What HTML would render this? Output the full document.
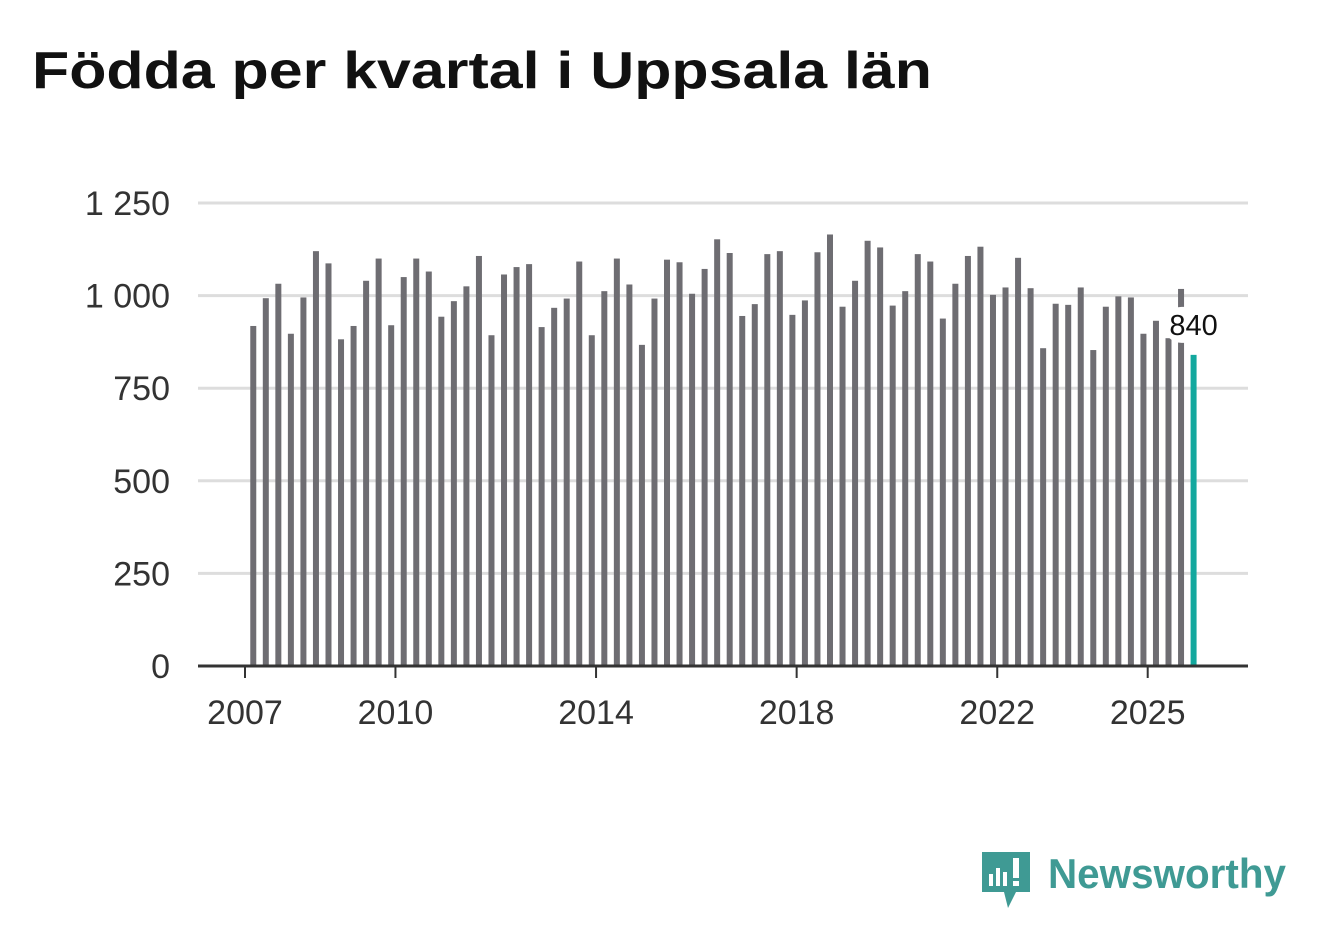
<!DOCTYPE html>
<html><head><meta charset="utf-8"><style>
body{margin:0;background:#fff;width:1322px;height:939px;overflow:hidden;font-family:"Liberation Sans",sans-serif}
</style></head><body>
<svg width="1322" height="939">
<text x="32" y="88" font-size="52" font-weight="bold" fill="#111" textLength="900" lengthAdjust="spacingAndGlyphs">Födda per kvartal i Uppsala län</text>
<g id="grid"></g><g id="bars"></g><g id="axis"></g>
<g>
<path d="M982 852h48v40h-14l-8 16l-4-16h-22z" fill="#3f9a94"/>
<rect x="989" y="874" width="4" height="12" fill="#fff"/><rect x="996" y="868" width="4" height="18" fill="#fff"/><rect x="1003" y="872" width="4" height="14" fill="#fff"/><rect x="1013" y="858" width="6" height="20" fill="#fff"/><rect x="1013" y="881" width="6" height="5" fill="#fff"/>
<text x="1048" y="888" font-size="42" font-weight="bold" fill="#3f9a94" textLength="238" lengthAdjust="spacingAndGlyphs">Newsworthy</text>
</g>
</svg>
<script>
const years=[2007,2008,2009,2010,2011,2012,2013,2014,2015,2016,2017,2018,2019,2020,2021,2022,2023,2024,2025];
const values=[918,993,1032,897, 995,1120,1087,882, 918,1040,1100,920, 1050,1100,1065,943, 985,1025,1107,893, 1057,1077,1085,915, 967,992,1092,893, 1012,1100,1030,867, 992,1097,1090,1005, 1072,1152,1115,945, 977,1112,1120,948, 987,1117,1165,970, 1040,1148,1130,973, 1012,1112,1092,938, 1032,1107,1132,1002, 1022,1102,1020,858, 978,975,1022,853, 970,998,995,897, 932,885,1018,840];
const yTicks=[0,250,500,750,1000,1250];
const yLabels=["0","250","500","750","1 000","1 250"];
const xTicks=[2007,2010,2014,2018,2022,2025];
const NS="http://www.w3.org/2000/svg";
const y=v=>666-v*(463/1250);
const x=t=>245+(t-2007)*50.15;
function el(tag,attrs,parent,text){const e=document.createElementNS(NS,tag);for(const k in attrs)e.setAttribute(k,attrs[k]);if(text!==undefined)e.textContent=text;document.getElementById(parent).appendChild(e);return e;}
yTicks.forEach((t,i)=>{
 if(t>0){const g=el('line',{x1:198,x2:1248,y1:y(t),y2:y(t),stroke:'#ddd','stroke-width':3},'grid');
 
 }
 const l=el('text',{x:170,y:y(t)+12,'font-size':34,fill:'#333','text-anchor':'end'},'axis',yLabels[i]);
 
 
});
values.forEach((v,i)=>{
 const cx=x(2007+i/4+0.125)+2;
 const last=i===values.length-1;
 const b=el('rect',{x:cx-3,y:y(v),width:6,height:666-y(v),fill:last?'#13a89e':'#6e6d72'},'bars');
 
 
 if(last){
  const bg=el('rect',{x:cx-30,y:y(v)-48,width:60,height:36,rx:18,fill:'#fff'},'bars');
  
  
  const t=el('text',{x:cx,y:y(v)-20,'font-size':29,fill:'#111','text-anchor':'middle'},'bars',String(v));
  
  
 }
});
const ax=el('line',{x1:198,x2:1248,y1:666,y2:666,stroke:'#333','stroke-width':3},'axis');


xTicks.forEach(t=>{
 const tk=el('line',{x1:x(t),x2:x(t),y1:666,y2:678,stroke:'#333','stroke-width':2},'axis');
 
 
 const l=el('text',{x:x(t),y:724,'font-size':34,fill:'#333','text-anchor':'middle'},'axis',String(t));
 
 
});
</script>
</body></html>
